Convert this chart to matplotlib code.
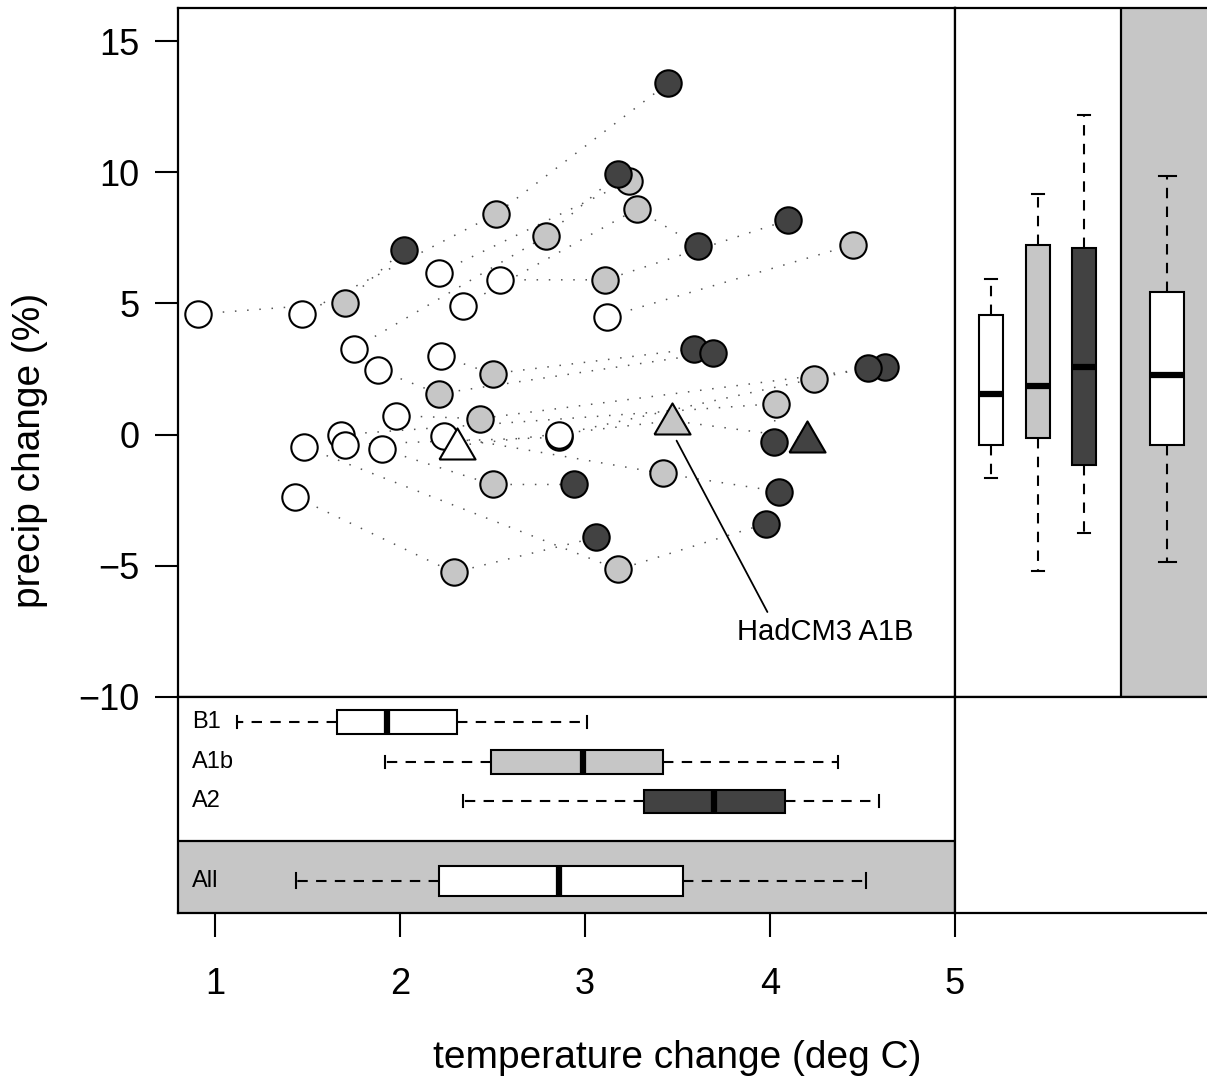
import numpy as np
import matplotlib
matplotlib.use("Agg")
import matplotlib.pyplot as plt

# scatter data: temperature change (deg C), precip change (%), model id
b1_temp = [0.91, 1.47, 1.75, 2.21, 2.34, 2.54, 3.12, 2.22, 1.88, 1.98, 2.86, 2.24, 1.90, 1.43, 1.48, 1.68, 1.70, 2.31]
b1_precip = [4.60, 4.60, 3.27, 6.17, 4.91, 5.90, 4.49, 3.00, 2.47, 0.72, 0.00, -0.04, -0.55, -2.36, -0.46, 0.00, -0.38, -0.42]
b1_model = ['m1', 'm2', 'm3', 'm4', 'm5', 'm6', 'm7', 'm8', 'm9', 'm10', 'm11', 'm12', 'm13', 'm14', 'm15', 'm16', 'm17', 'HadCM3']

a1b_temp = [1.70, 2.52, 2.79, 3.24, 3.28, 3.11, 4.45, 2.50, 2.21, 2.43, 4.24, 3.42, 2.50, 2.29, 3.18, 4.03, 3.47]
a1b_precip = [5.02, 8.41, 7.57, 9.67, 8.60, 5.90, 7.24, 2.32, 1.56, 0.61, 2.13, -1.48, -1.90, -5.25, -5.14, 1.18, 0.53]
a1b_model = ['m1', 'm2', 'm3', 'm4', 'm5', 'm6', 'm7', 'm8', 'm9', 'm10', 'm11', 'm12', 'm13', 'm14', 'm15', 'm16', 'HadCM3']

a2_temp = [2.02, 3.45, 3.18, 3.61, 4.10, 3.59, 3.69, 4.62, 4.53, 4.05, 2.94, 3.06, 3.98, 4.02, 2.86, 4.20]
a2_precip = [7.04, 13.40, 9.93, 7.19, 8.18, 3.27, 3.12, 2.59, 2.55, -2.17, -1.90, -3.92, -3.39, -0.27, -0.10, -0.15]
a2_model = ['m1', 'm2', 'm3', 'm5', 'm6', 'm8', 'm9', 'm10', 'm11', 'm12', 'm13', 'm14', 'm15', 'm16', 'm17', 'HadCM3']

# box plot summaries
box_labels = ['B1', 'A1b', 'A2', 'All']
temp_whislo = [1.12, 1.92, 2.34, 1.44]
temp_q1 = [1.66, 2.49, 3.32, 2.21]
temp_med = [1.93, 2.99, 3.70, 2.86]
temp_q3 = [2.31, 3.42, 4.08, 3.53]
temp_whishi = [3.01, 4.37, 4.59, 4.52]

precip_whislo = [-1.64, -5.21, -3.75, -4.86]
precip_q1 = [-0.40, -0.11, -1.16, -0.40]
precip_med = [1.55, 1.86, 2.57, 2.27]
precip_q3 = [4.56, 7.22, 7.12, 5.43]
precip_whishi = [5.94, 9.17, 12.17, 9.84]

WHITE, LIGHT, DARK = 'white', '#c6c6c6', '#424242'
box_colors = [WHITE, LIGHT, DARK, WHITE]

plt.rcParams['font.family'] = ['Liberation Sans', 'DejaVu Sans']
plt.rcParams['axes.linewidth'] = 1.6

W, H = 1207, 1089
fig = plt.figure(figsize=(W / 100, H / 100), dpi=100)


def rect(x0, y0, x1, y1):
    return [x0 / W, 1 - y1 / H, (x1 - x0) / W, (y1 - y0) / H]


ax = fig.add_axes(rect(178, 8, 955, 697))
ax_r = fig.add_axes(rect(955, 8, 1209, 697))
ax_b = fig.add_axes(rect(178, 697, 955, 913))
ax_c = fig.add_axes(rect(955, 697, 1209, 913))

XLIM = (0.8, 5.0)
YLIM = (-10, 16.26)

# ---- main scatter ----
scen = {
    'B1': (b1_temp, b1_precip, b1_model, WHITE),
    'A1b': (a1b_temp, a1b_precip, a1b_model, LIGHT),
    'A2': (a2_temp, a2_precip, a2_model, DARK),
}

models = sorted(set(b1_model) | set(a1b_model) | set(a2_model))
for m in models:
    xs, ys = [], []
    for key in ['B1', 'A1b', 'A2']:
        t, p, mod, _ = scen[key]
        if m in mod:
            i = mod.index(m)
            xs.append(t[i])
            ys.append(p[i])
    ax.plot(xs, ys, ls=(0, (1, 7)), lw=1.1, color='#555555', zorder=1)

tri = [(-1, -0.72), (1, -0.72), (0, 1.0), (-1, -0.72)]
for key in ['A1b', 'A2', 'B1']:
    t, p, mod, col = scen[key]
    t, p, mod = np.array(t), np.array(p), np.array(mod)
    circ = mod != 'HadCM3'
    ax.plot(t[circ], p[circ], 'o', ms=19, mfc=col, mec='black', mew=1.5, zorder=3)
for key in ['B1', 'A1b', 'A2']:
    t, p, mod, col = scen[key]
    t, p, mod = np.array(t), np.array(p), np.array(mod)
    had = mod == 'HadCM3'
    ax.plot(t[had], p[had], marker=tri, ls='none', ms=26, mfc=col, mec='black', mew=1.5,
            zorder=4)

ax.annotate('HadCM3 A1B', xy=(3.495, -0.23), xytext=(4.30, -7.54), ha='center', va='center',
            fontsize=21,
            arrowprops=dict(arrowstyle='-', color='black', lw=1.3, shrinkA=3, shrinkB=0,
                            relpos=(0.19, 1.0)))

ax.set_xlim(*XLIM)
ax.set_ylim(*YLIM)
ax.set_yticks([-10, -5, 0, 5, 10, 15])
ax.set_xticks([])
ax.tick_params(axis='y', direction='out', length=16.5, width=1.5, pad=11, labelsize=26)

common = dict(patch_artist=True, showfliers=False,
              boxprops=dict(edgecolor='black', linewidth=1.5),
              whiskerprops=dict(linestyle=(0, (5, 4)), linewidth=1.5, color='black'),
              capprops=dict(linewidth=1.5, color='black'),
              medianprops=dict(color='black', linewidth=4.5))

# ---- bottom panel: temperature boxes ----
t_stats = [dict(label=lab, whislo=a, q1=b, med=c, q3=d, whishi=e, fliers=[])
           for lab, a, b, c, d, e in zip(box_labels, temp_whislo, temp_q1, temp_med, temp_q3, temp_whishi)]
pos_b = [1, 2, 3, 5]
wid_b = [0.6, 0.6, 0.6, 0.76]
ax_b.axhspan(4.0, 6.0, facecolor=LIGHT, edgecolor='none', zorder=0)
ax_b.axhline(4.0, color='black', lw=1.6, zorder=1)
bp = ax_b.bxp(t_stats, positions=pos_b, widths=wid_b, capwidths=[w * 0.5 for w in wid_b],
              orientation='horizontal', **common)
for patch, col in zip(bp['boxes'], box_colors):
    patch.set_facecolor(col)
for lab, p in zip(box_labels, pos_b):
    ax_b.text(0.875, p, lab, ha='left', va='center', fontsize=17)
ax_b.set_xlim(*XLIM)
ax_b.set_ylim(5.81, 0.37)
ax_b.set_yticks([])
ax_b.set_xticks([1, 2, 3, 4, 5])
ax_b.set_xticklabels(['1', '2', '3', '4', '5'])
ax_b.tick_params(axis='x', direction='out', length=17, width=1.5, pad=22, labelsize=26)

# ---- right panel: precip boxes ----
p_stats = [dict(label=lab, whislo=a, q1=b, med=c, q3=d, whishi=e, fliers=[])
           for lab, a, b, c, d, e in zip(box_labels, precip_whislo, precip_q1, precip_med, precip_q3, precip_whishi)]
pos_r = [1, 2, 3, 4.78]
wid_r = [0.52, 0.52, 0.52, 0.73]
ax_r.axvspan(3.789, 6.0, facecolor=LIGHT, edgecolor='none', zorder=0)
ax_r.axvline(3.789, color='black', lw=1.6, zorder=1)
bp = ax_r.bxp(p_stats, positions=pos_r, widths=wid_r, capwidths=[w * 0.5 for w in wid_r],
              orientation='vertical', **common)
for patch, col in zip(bp['boxes'], box_colors):
    patch.set_facecolor(col)
ax_r.set_xlim(0.219, 5.68)
ax_r.set_ylim(*YLIM)
ax_r.set_xticks([])
ax_r.set_yticks([])

ax_c.set_xticks([])
ax_c.set_yticks([])

fig.text(30 / W, 1 - 450 / H, 'precip change (%)', rotation=90, ha='center', va='center', fontsize=28)
fig.text(677 / W, 1 - 1058 / H, 'temperature change (deg C)', ha='center', va='center', fontsize=28)

fig.savefig('out.png', dpi=100)
